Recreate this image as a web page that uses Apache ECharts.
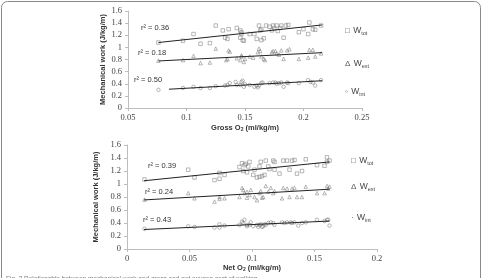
<!DOCTYPE html>
<html>
<head>
<meta charset="utf-8">
<script src="https://cdn.jsdelivr.net/npm/echarts@6/dist/echarts.min.js"></script>
<style>
  html, body { margin: 0; padding: 0; background: #fff; }
  #chart { width: 483px; height: 278px; }
</style>
</head>
<body>
<div id="chart"></div>
<script>
// top panel: gross O2 cost vs mechanical work
let grossTot = [[0.076,1.08],[0.097,1.11],[0.106,1.22],[0.112,1.06],[0.120,1.07],[0.125,1.36],[0.131,1.28],[0.133,1.16],[0.136,1.30],[0.135,1.14],[0.143,1.32],[0.146,1.28],[0.147,1.25],[0.147,1.22],[0.148,1.12],[0.146,1.16],[0.149,1.11],[0.154,1.22],[0.158,1.22],[0.160,1.14],[0.162,1.36],[0.163,1.28],[0.164,1.30],[0.164,1.12],[0.166,1.15],[0.168,1.36],[0.171,1.34],[0.173,1.28],[0.174,1.36],[0.175,1.32],[0.177,1.36],[0.178,1.27],[0.180,1.32],[0.181,1.36],[0.183,1.16],[0.185,1.36],[0.187,1.37],[0.196,1.25],[0.200,1.30],[0.204,1.22],[0.205,1.41],[0.208,1.30],[0.210,1.29],[0.215,1.36]]
let grossExt = [[0.076,0.78],[0.097,0.79],[0.106,0.86],[0.112,0.74],[0.120,0.75],[0.125,0.98],[0.134,0.79],[0.135,0.81],[0.136,0.95],[0.137,0.93],[0.143,0.82],[0.146,0.79],[0.147,0.87],[0.147,0.85],[0.149,0.76],[0.150,0.81],[0.154,0.85],[0.157,0.83],[0.161,0.92],[0.162,0.98],[0.163,0.94],[0.164,0.85],[0.166,0.81],[0.167,0.79],[0.173,0.92],[0.174,0.94],[0.176,0.94],[0.177,0.90],[0.179,0.88],[0.181,0.95],[0.183,0.81],[0.186,0.95],[0.188,0.97],[0.196,0.81],[0.204,0.83],[0.205,0.96],[0.208,0.96],[0.210,0.85],[0.215,0.90]]
let grossInt = [[0.076,0.30],[0.097,0.33],[0.106,0.35],[0.112,0.33],[0.120,0.33],[0.125,0.36],[0.133,0.37],[0.135,0.38],[0.137,0.41],[0.142,0.43],[0.143,0.38],[0.146,0.38],[0.147,0.43],[0.148,0.45],[0.149,0.35],[0.150,0.39],[0.154,0.38],[0.158,0.35],[0.160,0.37],[0.161,0.34],[0.162,0.37],[0.164,0.41],[0.165,0.42],[0.171,0.41],[0.174,0.42],[0.176,0.42],[0.177,0.40],[0.179,0.41],[0.181,0.42],[0.183,0.35],[0.186,0.42],[0.187,0.41],[0.196,0.41],[0.204,0.46],[0.206,0.43],[0.208,0.42],[0.210,0.37],[0.215,0.46]]
let grossTotFit = [[0.076,1.08],[0.216,1.37]]
let grossExtFit = [[0.076,0.776],[0.216,0.913]]
let grossIntFit = [[0.085,0.31],[0.216,0.45]]
let grossR2 = ['0.36', '0.18', '0.50']

// bottom panel: net O2 cost vs mechanical work
let netTot = [[0.014,1.07],[0.049,1.22],[0.054,1.10],[0.070,1.06],[0.074,1.08],[0.074,1.17],[0.078,1.14],[0.090,1.26],[0.092,1.32],[0.093,1.20],[0.094,1.29],[0.095,1.31],[0.096,1.18],[0.098,1.34],[0.097,1.27],[0.101,1.14],[0.102,1.22],[0.104,1.10],[0.106,1.11],[0.106,1.27],[0.107,1.34],[0.108,1.12],[0.110,1.14],[0.111,1.36],[0.113,1.27],[0.114,1.23],[0.117,1.36],[0.118,1.34],[0.118,1.22],[0.122,1.16],[0.125,1.36],[0.128,1.36],[0.130,1.22],[0.132,1.36],[0.134,1.37],[0.136,1.16],[0.140,1.20],[0.143,1.38],[0.152,1.29],[0.158,1.28],[0.160,1.41],[0.160,1.34],[0.162,1.36]]
let netExt = [[0.014,0.76],[0.049,0.86],[0.054,0.78],[0.070,0.73],[0.074,0.77],[0.074,0.80],[0.078,0.78],[0.090,0.80],[0.092,0.94],[0.093,0.91],[0.094,0.86],[0.096,0.88],[0.096,0.79],[0.098,0.83],[0.099,0.91],[0.102,0.80],[0.104,0.75],[0.106,0.86],[0.107,0.89],[0.108,0.79],[0.109,0.80],[0.111,0.97],[0.113,0.88],[0.115,0.94],[0.117,0.86],[0.118,0.89],[0.124,0.78],[0.125,0.94],[0.128,0.93],[0.130,0.80],[0.132,0.93],[0.134,0.94],[0.136,0.80],[0.140,0.80],[0.143,0.96],[0.152,0.86],[0.158,0.86],[0.160,0.97],[0.161,0.93],[0.162,0.96]]
let netInt = [[0.014,0.31],[0.049,0.35],[0.054,0.34],[0.070,0.33],[0.074,0.38],[0.074,0.33],[0.078,0.36],[0.090,0.37],[0.092,0.42],[0.093,0.40],[0.094,0.45],[0.096,0.37],[0.096,0.35],[0.098,0.37],[0.099,0.41],[0.101,0.35],[0.104,0.37],[0.105,0.34],[0.106,0.37],[0.107,0.38],[0.108,0.34],[0.109,0.35],[0.110,0.38],[0.111,0.37],[0.113,0.40],[0.115,0.41],[0.117,0.40],[0.118,0.37],[0.124,0.41],[0.126,0.40],[0.128,0.41],[0.131,0.41],[0.132,0.40],[0.134,0.41],[0.137,0.36],[0.140,0.40],[0.143,0.41],[0.152,0.45],[0.158,0.43],[0.160,0.45],[0.161,0.45],[0.162,0.36]]
let netTotFit = [[0.0136,1.05],[0.162,1.34]]
let netExtFit = [[0.0136,0.755],[0.162,0.92]]
let netIntFit = [[0.0136,0.30],[0.162,0.43]]
let netR2 = ['0.39', '0.24', '0.43']

let yTicks = { min: 0, max: 1.6, interval: 0.2 }

let serif = 'Liberation Serif'
let sans = 'Liberation Sans'
let axisGrey = '#bdbdbd'
let ptColor = '#6a6a6a'

let ch = echarts.init(document.getElementById('chart'))

function xAxisOf(grid, min, max, name, gap) {
  return {
    gridIndex: grid, type: 'value', min: min, max: max, interval: 0.05,
    name: name, nameLocation: 'middle', nameGap: gap,
    nameTextStyle: {
      fontFamily: sans, fontWeight: 'bold', fontSize: 7.5, color: '#333',
      rich: { sub: { fontFamily: sans, fontWeight: 'bold', fontSize: 5, color: '#333', verticalAlign: 'bottom', padding: [4, 0, 0, 0] } }
    },
    axisLine: { lineStyle: { color: axisGrey } },
    axisTick: { show: true, length: 3, lineStyle: { color: axisGrey } },
    splitLine: { show: false },
    axisLabel: { fontFamily: serif, fontSize: 8.5, color: '#444', margin: 5, formatter: v => String(+v.toFixed(2)) }
  }
}

function yAxisOf(grid, gap) {
  return {
    gridIndex: grid, type: 'value', min: yTicks.min, max: yTicks.max, interval: yTicks.interval,
    name: 'Mechanical work (J/kg/m)', nameLocation: 'middle', nameGap: gap,
    nameTextStyle: { fontFamily: sans, fontWeight: 'bold', fontSize: 7.5, color: '#333' },
    axisLine: { show: true, lineStyle: { color: axisGrey } },
    axisTick: { show: true, length: 3, lineStyle: { color: axisGrey } },
    splitLine: { show: false },
    axisLabel: { fontFamily: serif, fontSize: 8.5, color: '#444', margin: 6, formatter: v => String(+v.toFixed(1)) }
  }
}

function pts(data, sym, idx, size) {
  return {
    type: 'scatter', data: data, xAxisIndex: idx, yAxisIndex: idx,
    symbol: sym, symbolSize: size || 3.5, silent: true,
    itemStyle: { color: 'rgba(255,255,255,0)', borderColor: ptColor, borderWidth: 0.6 }
  }
}

function fit(data, idx) {
  return {
    type: 'line', data: data, xAxisIndex: idx, yAxisIndex: idx, showSymbol: false, silent: true,
    lineStyle: { color: '#222', width: 1 }, z: 3
  }
}

function r2Text(x, y, val) {
  return { type: 'text', left: x, top: y - 5, style: { text: 'r² = ' + val, font: '7.5px ' + sans, fill: '#333' } }
}

function legText(x, y, mark, sub) {
  return {
    type: 'text', left: x, top: y - 5,
    style: {
      text: '{m|' + mark + '} {w|W}{s|' + sub + '}',
      rich: {
        m: { fontFamily: sans, fontSize: 8, fill: '#555' },
        w: { fontFamily: sans, fontSize: 8.5, fill: '#444' },
        s: { fontFamily: sans, fontSize: 5.5, fill: '#444', padding: [5, 0, 0, 0] }
      }
    }
  }
}

let option = {
  backgroundColor: '#fff',
  animation: false,
  grid: [
    { left: 128, top: 11, width: 234, height: 97 },
    { left: 127, top: 145, width: 250, height: 104 }
  ],
  xAxis: [
    xAxisOf(0, 0.05, 0.25, 'Gross O{sub|2} (ml/kg/m)', 15),
    xAxisOf(1, 0, 0.2, 'Net O{sub|2} (ml/kg/m)', 14)
  ],
  yAxis: [yAxisOf(0, 21), yAxisOf(1, 20)],
  series: [
    fit(grossTotFit, 0), fit(grossExtFit, 0), fit(grossIntFit, 0),
    pts(grossTot, 'rect', 0), pts(grossExt, 'triangle', 0), pts(grossInt, 'circle', 0),
    fit(netTotFit, 1), fit(netExtFit, 1), fit(netIntFit, 1),
    pts(netTot, 'rect', 1), pts(netExt, 'triangle', 1), pts(netInt, 'circle', 1)
  ],
  graphic: [
    { type: 'rect', shape: { x: 1.5, y: 1.5, width: 479, height: 300, r: 6 }, style: { fill: 'none', stroke: '#8a8a8a', lineWidth: 1 } },
    r2Text(141, 29, grossR2[0]), r2Text(138, 54, grossR2[1]), r2Text(134, 81, grossR2[2]),
    r2Text(148, 167, netR2[0]), r2Text(145, 193, netR2[1]), r2Text(143, 221, netR2[2]),
    legText(345, 30, '□', 'tot'), legText(345, 63, 'Δ', 'ext'), legText(345, 91, '◦', 'int'),
    legText(351, 160, '□', 'tot'), legText(351, 186, 'Δ', 'ext'), legText(351, 217, '·', 'int'),
    { type: 'text', left: 6, top: 275.5, style: { text: 'Fig. 2 Relationship between mechanical work and gross and net oxygen cost of walking', font: '6.5px ' + sans, fill: '#777' } }
  ]
}
ch.setOption(option)
</script>
</body>
</html>
